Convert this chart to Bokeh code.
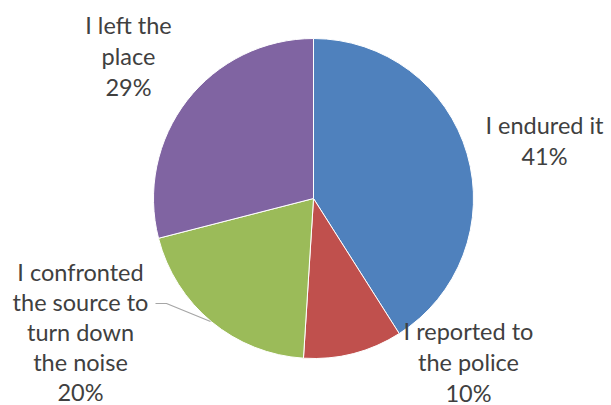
import math
from bokeh.plotting import figure
from bokeh.models import Range1d, ColumnDataSource
from bokeh.core.properties import value
from bokeh.embed import file_html
from bokeh.resources import INLINE

# Data
categories = ["I endured it", "I reported to the police", "I confronted the source to turn down the noise", "I left the place"]
label_text = ["I endured it\n41%", "I reported to\nthe police\n10%",
              "I confronted\nthe source to\nturn down\nthe noise\n20%", "I left the\nplace\n29%"]
shares = [41, 10, 20, 29]
colors = ["#4F81BD", "#C0504D", "#9BBB59", "#8064A2"]

# Layout (pixel positions, y measured from top)
W, H = 611, 405
CX, CY, R = 313, 198, 160
label_px = [(544, 140), (468, 361), (80, 331), (128, 55)]
line_steps = [31, 31, 30, 31]

total = float(sum(shares))
starts, ends = [], []
acc = 0.0
for s in shares:
    a0 = math.pi / 2 - 2 * math.pi * acc / total
    acc += s
    a1 = math.pi / 2 - 2 * math.pi * acc / total
    starts.append(a0)
    ends.append(a1)

src = ColumnDataSource(dict(cat=categories, start=starts, end=ends, color=colors))

p = figure(width=W, height=H, output_backend="svg", toolbar_location=None,
           x_range=Range1d(0, W), y_range=Range1d(0, H), min_border=0)
p.axis.visible = False
p.grid.visible = False
p.outline_line_color = None
p.background_fill_color = "white"

p.wedge(x=CX, y=H - CY, radius=R, start_angle="start", end_angle="end",
        direction="clock", fill_color="color", line_color="white", line_width=1,
        source=src)

# leader line for the green slice
lx = [155, 166, 210]
ly = [303, 303, 321]
p.line(x=lx, y=[H - v for v in ly], line_color="#A6A6A6", line_width=1.2)

xs, ys, ts = [], [], []
for (px, py), step, txt in zip(label_px, line_steps, label_text):
    lines = txt.split("\n")
    n = len(lines)
    for i, ln in enumerate(lines):
        yy = py + (i - (n - 1) / 2) * step
        xs.append(px)
        ys.append(H - yy)
        ts.append(ln)

lsrc = ColumnDataSource(dict(x=xs, y=ys, t=ts))
p.text(x="x", y="y", text="t", source=lsrc, text_align="center", text_baseline="middle",
       text_font=value("Lato"), text_font_size="23.5px", text_color="#404040")

open("out.html", "w").write(file_html(p, INLINE))
